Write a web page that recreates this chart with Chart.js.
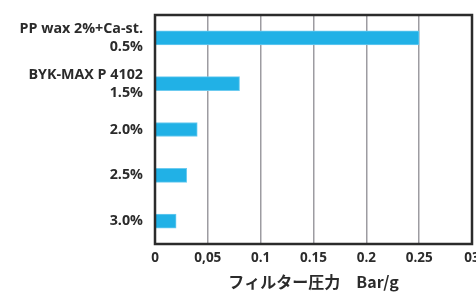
<!DOCTYPE html>
<html lang="ja">
<head>
    <meta charset="UTF-8">
    <title>Filter pressure</title>
    <script src="https://cdn.jsdelivr.net/npm/chart.js"></script>
    <style>
        html, body { margin: 0; padding: 0; background: #fff; overflow: hidden; }
        #wrap { width: 476px; height: 294px; }
    </style>
</head>
<body>
    <div id="wrap"><canvas id="chart"></canvas></div>

    <script>
    // data
    const categories = [
        ['PP wax 2%+Ca-st.', '0.5%'],
        ['BYK-MAX P 4102', '1.5%'],
        '2.0%',
        '2.5%',
        '3.0%'
    ];
    const pressure = [0.25, 0.08, 0.04, 0.03, 0.02];
    const tickLabels = ['0', '0,05', '0.1', '0.15', '0.2', '0.25', '03'];
    const axisTitle = 'フィルター圧力　Bar/g';

    // box round the plot area
    const frame = {
        id: 'frame',
        afterDraw(chart) {
            const a = chart.chartArea, ctx = chart.ctx;
            ctx.save();
            ctx.strokeStyle = '#2b2b2b';
            ctx.lineWidth = 2.5;
            ctx.strokeRect(a.left, a.top, a.right - a.left, a.bottom - a.top);
            ctx.restore();
        }
    };

    new Chart(document.getElementById('chart'), {
        type: 'bar',
        data: {
            labels: categories,
            datasets: [{
                data: pressure,
                backgroundColor: '#21b1e6',
                borderColor: '#6ccbf0',
                borderWidth: 1,
                borderSkipped: 'left',
                barThickness: 14
            }]
        },
        options: {
            indexAxis: 'y',
            responsive: true,
            maintainAspectRatio: false,
            animation: false,
            layout: { padding: { top: 15, right: 4, left: 0, bottom: 0 } },
            plugins: { legend: { display: false }, tooltip: { enabled: false } },
            scales: {
                x: {
                    min: 0,
                    max: 0.3,
                    ticks: {
                        stepSize: 0.05,
                        padding: 6,
                        color: '#2b2b2b',
                        font: { family: 'Open Sans', weight: 'bold', size: 13.5 },
                        maxRotation: 0,
                        callback: (v, i) => tickLabels[i]
                    },
                    grid: { color: '#9d9ca1', lineWidth: 1.5, drawTicks: false },
                    border: { display: false },
                    title: {
                        display: true,
                        text: axisTitle,
                        color: '#2b2b2b',
                        font: { family: 'Noto Sans CJK JP', weight: 'bold', size: 16 },
                        padding: { top: 0, bottom: 2 }
                    },
                    afterFit(s) { s.height = 50; s.paddingLeft = 0; s.paddingRight = 0; }
                },
                y: {
                    ticks: {
                        padding: 12,
                        color: '#2b2b2b',
                        font: { family: 'Open Sans', weight: 'bold', size: 14.3, lineHeight: 1.25 }
                    },
                    grid: { display: false, drawTicks: false },
                    border: { display: false },
                    afterFit(s) { s.width = 155; s.paddingTop = 0; s.paddingBottom = 0; }
                }
            }
        },
        plugins: [frame]
    });
    </script>
</body>
</html>
